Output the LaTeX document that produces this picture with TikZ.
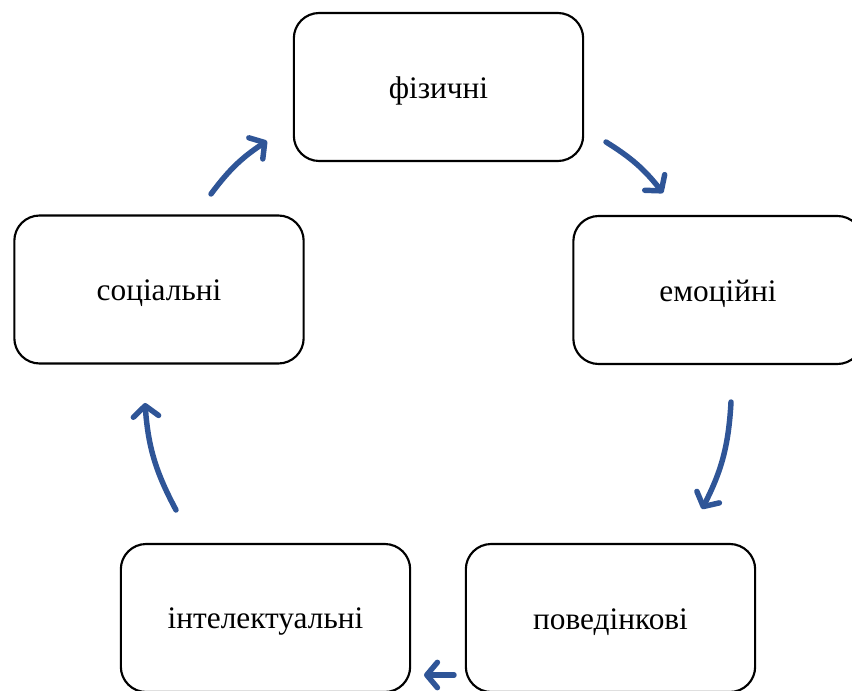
\documentclass[tikz,border=0pt]{standalone}
\usepackage{fontspec}
\setmainfont{Liberation Serif}
\usetikzlibrary{arrows.meta}
\definecolor{arrowblue}{RGB}{47,85,151}
\newcommand{\boxlabel}[1]{\raisebox{-3pt}[\height][\depth]{#1}}
\begin{document}
\begin{tikzpicture}[x=0.75pt,y=-0.75pt,
  box/.style={draw=black, line width=1.6pt, rounded corners=19pt, fill=white,
    minimum width=217pt, minimum height=111pt, inner sep=0pt,
    font=\fontsize{23.5}{28}\selectfont},
  cyc/.style={draw=arrowblue, line width=4.1pt, line cap=round,
    -{Straight Barb[length=8pt,width=19pt,round]}}]
\useasboundingbox (0,0) rectangle (852,691);
\node[box] (phys) at (438.5,87) {\boxlabel{фізичні}};
\node[box] (emo) at (718,290) {\boxlabel{емоційні}};
\node[box] (soc) at (159,289.5) {\boxlabel{соціальні}};
\node[box] (intel) at (265.5,618) {\boxlabel{інтелектуальні}};
\node[box] (beh) at (610.5,618) {\boxlabel{поведінкові}};
% arrow end points
\coordinate (a1s) at (211,194);
\coordinate (a1e) at (267,141);
\coordinate (a2s) at (606,142);
\coordinate (a2e) at (663,193);
\coordinate (a3s) at (731,402);
\coordinate (a3e) at (702,509);
\coordinate (a4s) at (454,675);
\coordinate (a4e) at (424,675);
\coordinate (a5s) at (176,510);
\coordinate (a5e) at (145,403);
\draw[cyc] (a1s) to[bend left=10] (a1e);
\draw[cyc] (a2s) to[bend left=10] (a2e);
\draw[cyc] (a3s) to[bend left=12] (a3e);
\draw[cyc] (a4s) -- (a4e);
\draw[cyc] (a5s) to[bend left=12] (a5e);
\end{tikzpicture}
\end{document}
